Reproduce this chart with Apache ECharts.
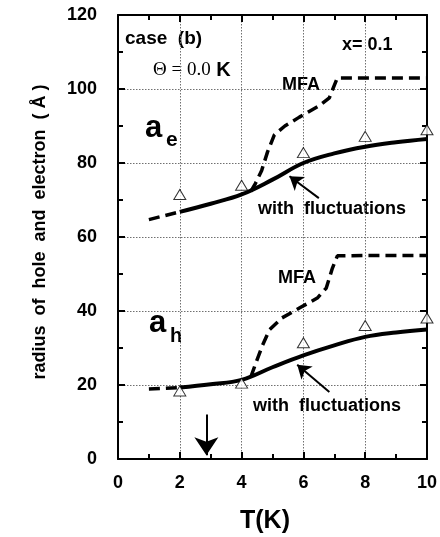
<!DOCTYPE html>
<html>
<head>
<meta charset="utf-8">
<script src="https://cdn.jsdelivr.net/npm/echarts@6/dist/echarts.min.js"></script>
<style>
  html, body { margin: 0; padding: 0; background: #fff; }
  #chart { width: 440px; height: 537px; }
</style>
</head>
<body>
<div id="chart"></div>
<script>
// electron radius a_e
const eFluctX = [2, 3, 4, 5, 6, 7, 8, 9, 10]
const eFluctY = [66.8, 69, 71.5, 75.5, 80, 82.6, 84.4, 85.6, 86.5]
const eLowX = [1, 2]
const eLowY = [64.7, 66.8]
const eMfaX = [4.3, 4.45, 4.65, 4.84, 5.06, 5.4, 5.87, 6.5, 6.84, 7.0, 7.1, 8, 9, 10]
const eMfaY = [72.3, 74.5, 78, 83, 87.6, 90, 92.4, 95.4, 97.6, 101, 103, 103, 103, 103]
const eTriX = [2, 4, 6, 8, 10]
const eTriY = [71.5, 74, 82.8, 87.2, 89]

// hole radius a_h
const hFluctX = [2, 3, 4, 5, 6, 7, 8, 9, 10]
const hFluctY = [19.3, 20.2, 21.4, 24.8, 28, 30.7, 33, 34.2, 35]
const hLowX = [1, 2]
const hLowY = [18.9, 19.3]
const hMfaX = [4.3, 4.5, 4.68, 4.9, 5.3, 5.87, 6.45, 6.74, 6.94, 7.1, 8, 9, 10]
const hMfaY = [22.2, 26.8, 30.8, 34.9, 38.1, 40.8, 43.5, 46.2, 51.6, 54.9, 55, 55, 55]
const hTriX = [2, 4, 6, 8, 10]
const hTriY = [18.4, 20.5, 31.4, 36.1, 38.1]

const xTicks = [0, 2, 4, 6, 8, 10]
const yTicks = [0, 20, 40, 60, 80, 100, 120]

const pairs = (xs, ys) => xs.map((x, i) => [x, ys[i]])

const FONT = 'Liberation Sans'

const mkAxis = (extra) => Object.assign({
  type: 'value',
  axisLine: { show: true, onZero: false, lineStyle: { color: '#000', width: 2 } },
  axisTick: { show: true, inside: true, length: 7, lineStyle: { color: '#000', width: 2 } },
  minorTick: { show: true, splitNumber: 2, length: 5, lineStyle: { color: '#000', width: 2 } },
  splitLine: { show: false },
  minorSplitLine: { show: false }
}, extra)

const dashedLine = (data) => ({
  type: 'line',
  data: data,
  showSymbol: false,
  symbol: 'none',
  lineStyle: { color: '#000', width: 3.5, type: [11, 6] },
  animation: false,
  z: 3
})

const solidLine = (data) => ({
  type: 'line',
  data: data,
  smooth: 0.4,
  showSymbol: false,
  symbol: 'none',
  lineStyle: { color: '#000', width: 4 },
  animation: false,
  z: 4
})

const triangles = (data) => ({
  type: 'scatter',
  data: data,
  symbol: 'triangle',
  symbolSize: [12, 10],
  itemStyle: { color: '#fff', borderColor: '#000', borderWidth: 1 },
  clip: false,
  animation: false,
  z: 5
})

const arrow = (from, to, size) => [
  { coord: from, symbol: 'none' },
  { coord: to, symbol: 'arrow', symbolSize: size }
]

const gridStyle = { show: true, lineStyle: { color: '#707070', width: 1, type: [1.5, 1.5] } }

const option = {
  backgroundColor: '#fff',
  animation: false,
  grid: { left: 118, top: 15, width: 310, height: 444 },
  xAxis: [
    mkAxis({
      position: 'bottom', min: 0, max: 10, interval: 2,
      axisLabel: { color: '#000', fontFamily: FONT, fontWeight: 'bold', fontSize: 18, margin: 15,
        formatter: v => xTicks.includes(v) ? String(v) : '' },
      splitLine: gridStyle
    }),
    mkAxis({
      position: 'top', min: 0, max: 10, interval: 2,
      axisLabel: { show: false }
    })
  ],
  yAxis: [
    mkAxis({
      position: 'left', min: 0, max: 120, interval: 20,
      axisLabel: { color: '#000', fontFamily: FONT, fontWeight: 'bold', fontSize: 18, margin: 21,
        formatter: v => yTicks.includes(v) ? String(v) : '' },
      splitLine: gridStyle
    }),
    mkAxis({
      position: 'right', min: 0, max: 120, interval: 20,
      axisLabel: { show: false }
    })
  ],
  series: [
    dashedLine(pairs(eLowX, eLowY)),
    solidLine(pairs(eFluctX, eFluctY)),
    dashedLine(pairs(eMfaX, eMfaY)),
    dashedLine(pairs(hLowX, hLowY)),
    solidLine(pairs(hFluctX, hFluctY)),
    dashedLine(pairs(hMfaX, hMfaY)),
    triangles(pairs(eTriX, eTriY)),
    Object.assign(triangles(pairs(hTriX, hTriY)), {
      markLine: {
        silent: true,
        animation: false,
        symbol: ['none', 'arrow'],
        symbolSize: 14,
        label: { show: false },
        lineStyle: { color: '#000', width: 2, type: 'solid' },
        data: [
          arrow([6.5, 70.5], [5.55, 76.4], 13),
          arrow([6.84, 18.1], [5.8, 25.5], 13),
          arrow([2.86, 12], [2.86, 1], 18)
        ]
      }
    })
  ],
  graphic: [
    { type: 'text', left: 125, top: 29, style: { text: 'case  (b)', font: 'bold 19px "Liberation Sans"', fill: '#000' } },
    { type: 'text', left: 153, top: 60, style: {
      text: '{s|Θ = 0.0}{k| K}',
      rich: {
        s: { fontFamily: 'Liberation Serif', fontSize: 19, fill: '#000' },
        k: { fontFamily: FONT, fontWeight: 'bold', fontSize: 20, fill: '#000' }
      } } },
    { type: 'text', left: 342, top: 36, style: { text: 'x= 0.1', font: 'bold 18px "Liberation Sans"', fill: '#000' } },
    { type: 'text', left: 282, top: 76, style: { text: 'MFA', font: 'bold 18px "Liberation Sans"', fill: '#000' } },
    { type: 'text', left: 278, top: 269, style: { text: 'MFA', font: 'bold 18px "Liberation Sans"', fill: '#000' } },
    { type: 'text', left: 145, top: 113, style: { text: 'a', font: 'bold 31px "Liberation Sans"', fill: '#000' } },
    { type: 'text', left: 166, top: 130, style: { text: 'e', font: 'bold 21px "Liberation Sans"', fill: '#000' } },
    { type: 'text', left: 149, top: 308, style: { text: 'a', font: 'bold 31px "Liberation Sans"', fill: '#000' } },
    { type: 'text', left: 170, top: 326, style: { text: 'h', font: 'bold 20px "Liberation Sans"', fill: '#000' } },
    { type: 'text', left: 258, top: 200, style: { text: 'with  fluctuations', font: 'bold 18px "Liberation Sans"', fill: '#000' } },
    { type: 'text', left: 253, top: 397, style: { text: 'with  fluctuations', font: 'bold 18px "Liberation Sans"', fill: '#000' } },
    { type: 'text', left: 240, top: 509, style: { text: 'T(K)', font: 'bold 25px "Liberation Sans"', fill: '#000' } },
    { type: 'text', x: 40, y: 232, rotation: Math.PI / 2,
      style: { text: 'radius  of  hole  and  electron  ( Å )', font: 'bold 18px "Liberation Sans"', fill: '#000',
        align: 'center', verticalAlign: 'middle' } }
  ]
}

const chart = echarts.init(document.getElementById('chart'), null, { renderer: 'canvas' })
chart.setOption(option)
</script>
</body>
</html>
